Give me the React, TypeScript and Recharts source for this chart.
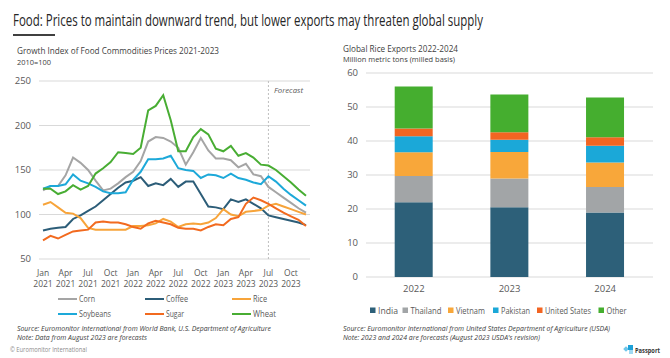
import { LineChart, Line, BarChart, Bar, XAxis, YAxis, CartesianGrid, ReferenceLine } from 'recharts';

const months = [
  'Jan 2021', 'Feb 2021', 'Mar 2021', 'Apr 2021', 'May 2021', 'Jun 2021',
  'Jul 2021', 'Aug 2021', 'Sep 2021', 'Oct 2021', 'Nov 2021', 'Dec 2021',
  'Jan 2022', 'Feb 2022', 'Mar 2022', 'Apr 2022', 'May 2022', 'Jun 2022',
  'Jul 2022', 'Aug 2022', 'Sep 2022', 'Oct 2022', 'Nov 2022', 'Dec 2022',
  'Jan 2023', 'Feb 2023', 'Mar 2023', 'Apr 2023', 'May 2023', 'Jun 2023',
  'Jul 2023', 'Aug 2023', 'Sep 2023', 'Oct 2023', 'Nov 2023', 'Dec 2023',
];

const corn = [127, 132, 132, 144, 164, 158, 150, 138, 127, 129, 135, 142, 148, 160, 182, 187, 186, 182, 175, 156, 170, 186, 172, 163, 163, 161, 153, 157, 145, 143, 131, 125, 119, 113, 107, 102];
const coffee = [82, 84, 85, 86, 95, 99, 104, 109, 116, 123, 130, 136, 138, 142, 132, 135, 133, 140, 131, 137, 137, 123, 109, 108, 106, 117, 114, 117, 112, 107, 99, 97, 95, 93, 91, 88];
const rice = [111, 114, 108, 102, 101, 96, 85, 83, 83, 83, 83, 83, 87, 87, 88, 90, 95, 92, 86, 89, 90, 89, 91, 96, 106, 100, 98, 103, 104, 105, 110, 112, 109, 106, 103, 100];
const soybeans = [129, 132, 132, 134, 145, 138, 135, 131, 126, 124, 124, 125, 139, 148, 162, 162, 163, 166, 152, 150, 149, 141, 145, 144, 141, 146, 141, 139, 136, 134, 143, 137, 129, 122, 116, 110];
const sugar = [71, 76, 73, 77, 81, 82, 83, 91, 92, 91, 91, 89, 86, 84, 90, 93, 91, 89, 85, 84, 84, 82, 86, 89, 88, 95, 97, 112, 119, 116, 112, 107, 102, 98, 94, 87];
const wheat = [129, 129, 123, 126, 133, 128, 132, 146, 152, 159, 170, 169, 168, 175, 217, 222, 234, 206, 171, 171, 187, 196, 190, 174, 171, 177, 166, 169, 164, 156, 155, 150, 143, 136, 128, 121];
const priceTicks = [50, 100, 150, 200, 250];

const years = ['2022', '2023', '2024'];
const india = [22.0, 20.5, 19.0];
const thailand = [7.7, 8.5, 7.5];
const vietnam = [7.0, 7.8, 7.2];
const pakistan = [4.7, 3.6, 4.9];
const unitedStates = [2.3, 2.2, 2.5];
const other = [12.3, 11.1, 11.7];
const exportTicks = [0, 10, 20, 30, 40, 50, 60];

const priceSeries = [
  { key: 'Corn', color: '#A5A5A5' },
  { key: 'Coffee', color: '#2C5D78' },
  { key: 'Rice', color: '#F7A43A' },
  { key: 'Soybeans', color: '#1DA9D9' },
  { key: 'Sugar', color: '#F26A1F' },
  { key: 'Wheat', color: '#48AD33' },
];

const exportSeries = [
  { key: 'India', color: '#2D6079' },
  { key: 'Thailand', color: '#A2A5A7' },
  { key: 'Vietnam', color: '#F8A73A' },
  { key: 'Pakistan', color: '#1BA8D8' },
  { key: 'United States', color: '#F26522' },
  { key: 'Other', color: '#45AE2F' },
];

const priceData = months.map((m, i) => ({
  month: m,
  Corn: corn[i],
  Coffee: coffee[i],
  Rice: rice[i],
  Soybeans: soybeans[i],
  Sugar: sugar[i],
  Wheat: wheat[i],
}));

const exportData = years.map((y, i) => ({
  year: y,
  India: india[i],
  Thailand: thailand[i],
  Vietnam: vietnam[i],
  Pakistan: pakistan[i],
  'United States': unitedStates[i],
  Other: other[i],
}));

const FONT = '"Open Sans", sans-serif';
const TXT = '#595959';

function MonthTick({ x, y, payload }: any) {
  const [mon, yr] = String(payload.value).split(' ');
  return (
    <g transform={`translate(${x},${y})`}>
      <text x={0} y={8.5} textAnchor="middle" fontSize={8.5} fill={TXT} fontFamily={FONT}>{mon}</text>
      <text x={0} y={19.5} textAnchor="middle" fontSize={8.5} fill={TXT} fontFamily={FONT}>{yr}</text>
    </g>
  );
}

function Label({ x, y, w, size, children, italic, weight, color }: any) {
  return (
    <text
      x={x}
      y={y}
      textLength={w}
      lengthAdjust="spacingAndGlyphs"
      fontSize={size}
      fontStyle={italic ? 'italic' : 'normal'}
      fontWeight={weight || 'normal'}
      fill={color || TXT}
      fontFamily={FONT}
    >
      {children}
    </text>
  );
}

// legend positions
const lineLegend = [
  { x: 58, y: 299, w: 16 },
  { x: 145, y: 299, w: 22 },
  { x: 232, y: 299, w: 14 },
  { x: 58, y: 314, w: 32 },
  { x: 145, y: 314, w: 18 },
  { x: 232, y: 314, w: 23 },
];
const barLegend = [
  { x: 370, w: 20 },
  { x: 402.5, w: 31 },
  { x: 448, w: 29 },
  { x: 493, w: 29 },
  { x: 537, w: 46 },
  { x: 598.5, w: 20 },
];

export default function App() {
  return (
    <div style={{ position: 'fixed', left: 0, top: 0, width: 670, height: 358, background: '#fff', overflow: 'hidden' }}>
      <div style={{ position: 'absolute', left: 0, top: 0 }}>
        <LineChart width={330} height={300} data={priceData} margin={{ top: 81, right: 20, bottom: 11, left: 9 }}>
          <CartesianGrid vertical={false} stroke="#D9D9D9" />
          <XAxis
            dataKey="month"
            interval={2}
            tick={<MonthTick />}
            axisLine={false}
            tickLine={false}
            height={30}
            padding={{ left: 4, right: 4 }}
          />
          <YAxis
            domain={[50, 250]}
            ticks={priceTicks}
            width={30}
            axisLine={false}
            tickLine={false}
            tick={{ fontSize: 9.5, fill: TXT, fontFamily: FONT }}
          />
          <ReferenceLine x="Jul 2023" stroke="#BFBFBF" strokeDasharray="2 2" />
          {priceSeries.map((s) => (
            <Line
              key={s.key}
              dataKey={s.key}
              stroke={s.color}
              strokeWidth={2}
              dot={false}
              type="linear"
              isAnimationActive={false}
            />
          ))}
        </LineChart>
      </div>

      <div style={{ position: 'absolute', left: 330, top: 0 }}>
        <BarChart width={340} height={300} data={exportData} margin={{ top: 73, right: 17, bottom: 0, left: 6 }} barCategoryGap="30%">
          <CartesianGrid vertical={false} stroke="#D9D9D9" />
          <XAxis
            dataKey="year"
            axisLine={false}
            tickLine={false}
            height={23}
            tick={{ fontSize: 9.5, fill: TXT, fontFamily: FONT }}
          />
          <YAxis
            domain={[0, 60]}
            ticks={exportTicks}
            width={30}
            axisLine={false}
            tickLine={false}
            tick={{ fontSize: 9.5, fill: TXT, fontFamily: FONT }}
          />
          {exportSeries.map((s) => (
            <Bar key={s.key} dataKey={s.key} stackId="a" fill={s.color} isAnimationActive={false} />
          ))}
        </BarChart>
      </div>

      <svg width={670} height={358} style={{ position: 'absolute', left: 0, top: 0, pointerEvents: 'none' }}>
        <Label x={13} y={26} w={470} size={15.5} color="#262626">
          Food: Prices to maintain downward trend, but lower exports may threaten global supply
        </Label>
        <rect x={13} y={34} width={42} height={2} fill="#404040" />

        <Label x={17} y={54} w={202} size={9} color="#404040">Growth Index of Food Commodities Prices 2021-2023</Label>
        <Label x={17} y={64.5} w={34} size={7} color="#404040">2010=100</Label>
        <Label x={274} y={92.5} w={29} size={8} italic>Forecast</Label>

        {priceSeries.map((s, i) => {
          const p = lineLegend[i];
          return (
            <g key={s.key}>
              <line x1={p.x} x2={p.x + 19} y1={p.y} y2={p.y} stroke={s.color} strokeWidth={2} />
              <Label x={p.x + 21} y={p.y + 3} w={p.w} size={8.5}>{s.key}</Label>
            </g>
          );
        })}

        <Label x={17} y={331} w={254} size={7.2} italic color="#404040">
          Source: Euromonitor International from World Bank, U.S. Department of Agriculture
        </Label>
        <Label x={17} y={339.5} w={130} size={7.2} italic color="#404040">
          Note: Data from August 2023 are forecasts
        </Label>
        <Label x={10} y={351.5} w={77} size={6.5} color="#8C8C8C">© Euromonitor International</Label>

        <Label x={343} y={52} w={115} size={9} color="#404040">Global Rice Exports 2022-2024</Label>
        <Label x={343} y={62} w={112} size={7.5} color="#404040">Million metric tons (milled basis)</Label>

        {exportSeries.map((s, i) => {
          const p = barLegend[i];
          return (
            <g key={s.key}>
              <rect x={p.x} y={307.5} width={5.5} height={5.5} fill={s.color} />
              <Label x={p.x + 8} y={313.5} w={p.w} size={9}>{s.key}</Label>
            </g>
          );
        })}

        <Label x={343} y={331} w={267} size={7.2} italic color="#404040">
          Source: Euromonitor International from United States Department of Agriculture (USDA)
        </Label>
        <Label x={343} y={339.5} w={197} size={7.2} italic color="#404040">
          Note: 2023 and 2024 are forecasts (August 2023 USDA's revision)
        </Label>

        <g>
          <rect x={624} y={347} width={4} height={4} fill="#6EC6EA" transform="rotate(45 626 349)" />
          <rect x={628} y={345} width={5} height={5} fill="#1DA1D8" />
          <rect x={629} y={350} width={4} height={4} fill="#9FD9F2" />
          <Label x={635} y={352.5} w={25} size={7.5} weight="bold" color="#333">Passport</Label>
        </g>
      </svg>
    </div>
  );
}
